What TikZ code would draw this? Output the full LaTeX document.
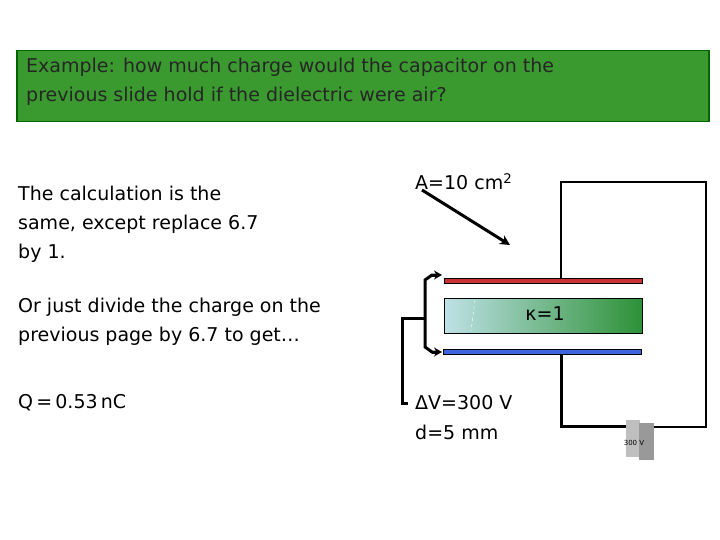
\documentclass[tikz,border=0pt]{standalone}
\usepackage{fontspec}
\usetikzlibrary{arrows.meta}
\setmainfont{DejaVu Sans}
\begin{document}
\begin{tikzpicture}[x=1pt,y=-1pt,
  txt/.style={anchor=west,font=\fontsize{19}{29}\selectfont,inner sep=0pt},
  wire/.style={line width=3pt},
  thinwire/.style={line width=1.6pt}]
\useasboundingbox (0,0) rectangle (720,540);
\node[draw=green!40!black,line width=1.5pt,fill={rgb,255:red,58;green,154;blue,48},minimum width=692,minimum height=71,anchor=north west,inner sep=0] (hdr) at (16,50) {};
\node[txt,align=left,anchor=north west,text=black!85] (ht) at (26,58) {Example: how much charge would the capacitor on the\\previous slide hold if the dielectric were air?};
\node[txt,align=left,anchor=north west] (t1) at (18,186) {The calculation is the\\same, except replace 6.7\\by 1.};
\node[txt,align=left,anchor=north west] (t2) at (18,298) {Or just divide the charge on the\\previous page by 6.7 to get…};
\node[txt] (q) at (18,403) {Q\,=\,0.53\,nC};
\node[txt] (a) at (415,182) {A=10 cm\textsuperscript{2}};
\node[txt] (dv) at (415,403) {ΔV=300 V};
\node[txt] (dd) at (415,432) {d=5 mm};
\fill[left color={rgb,255:red,190;green,225;blue,230},right color={rgb,255:red,45;green,145;blue,55}] (444,298) rectangle (642,333);
\draw[black] (444,298) rectangle (642,333);
\draw[white,dashed,thin] (475,300) -- (471,331);
\node[txt,anchor=center] (k) at (545,314) {κ=1};
\node[draw=black,line width=0.5pt,fill={rgb,255:red,200;green,50;blue,50},minimum width=198,minimum height=5,inner sep=0,anchor=north west] (top) at (444,278) {};
\node[draw=black,line width=0.5pt,fill={rgb,255:red,60;green,100;blue,220},minimum width=198,minimum height=5,inner sep=0,anchor=north west] (bot) at (443,349) {};
\node[fill=black!25,minimum width=14,minimum height=37,inner sep=0,anchor=north west] (b1) at (626,420) {};
\node[fill=black!40,minimum width=15,minimum height=37,inner sep=0,anchor=north west] (b2) at (639,423) {};
\node[font=\fontsize{7}{7}\selectfont,inner sep=0] (bl) at (634,443) {300 V};
\coordinate (c1) at (561,182);
\coordinate (c2) at (706,182);
\coordinate (c3) at (706,427);
\draw[thinwire] (561,278) -- (c1) -- (c2) -- (c3) -- (b2.east |- c3);
\draw[wire] (561,354) -- (561,426) -- (b1.west |- 0,426);
\draw[wire,-{Stealth[length=10pt,width=10pt]}] (422,190) -- (510,245);
\draw[wire] (436,275) -- (432,275) -- (425,280) -- (425,347) -- (432,352) -- (436,352);
\draw[wire] (425,318) -- (402,318) -- (402,403) -- (408,403);
\draw[wire,-{Stealth[length=8pt,width=9pt]}] (432,275) -- (442,275);
\draw[wire,-{Stealth[length=8pt,width=9pt]}] (432,352) -- (442,352);
\end{tikzpicture}
\end{document}
